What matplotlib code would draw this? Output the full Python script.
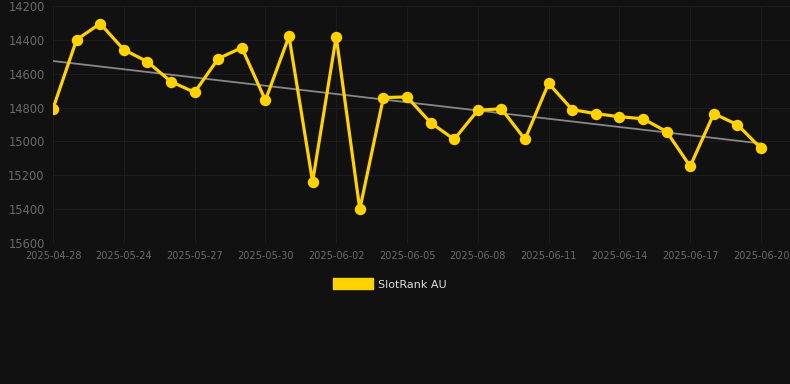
import numpy as np
import matplotlib
matplotlib.use("Agg")
import matplotlib.pyplot as plt
from matplotlib.patches import Patch

dates = ["2025-04-28", "2025-05-22", "2025-05-23", "2025-05-24", "2025-05-25",
         "2025-05-26", "2025-05-27", "2025-05-28", "2025-05-29", "2025-05-30",
         "2025-05-31", "2025-06-01", "2025-06-02", "2025-06-03", "2025-06-04",
         "2025-06-05", "2025-06-06", "2025-06-07", "2025-06-08", "2025-06-09",
         "2025-06-10", "2025-06-11", "2025-06-12", "2025-06-13", "2025-06-14",
         "2025-06-15", "2025-06-16", "2025-06-17", "2025-06-18", "2025-06-19",
         "2025-06-20"]
rank = [14806, 14399, 14304, 14458, 14529, 14647, 14710, 14511, 14446, 14757,
        14379, 15238, 14381, 15401, 14741, 14737, 14889, 14988, 14816, 14807,
        14988, 14657, 14812, 14836, 14854, 14866, 14942, 15147, 14836, 14901,
        15041]
y_ticks = [14200, 14400, 14600, 14800, 15000, 15200, 15400, 15600]

bg = "#111111"
gold = "#FFD200"
W, H = 790, 384

fig = plt.figure(figsize=(W / 100, H / 100), dpi=100, facecolor=bg)
ax = fig.add_axes([53 / W, (H - 243) / H, (790 - 53) / W, 237 / H], facecolor=bg)

x = np.arange(len(rank))
# linear trend
k, b = np.polyfit(x, rank, 1)
ax.plot(x, k * x + b, color="#888888", lw=1.3, zorder=2)

ax.plot(x, rank, color=gold, lw=2.3, marker="o", ms=7.2,
        solid_joinstyle="miter", zorder=3)

ax.set_xlim(0, (790 - 53) / 23.6)
ax.set_ylim(15600, 14200)
ax.set_yticks(y_ticks)
ax.set_yticklabels([str(v) for v in y_ticks])
ax.set_xticks(x[::3])
ax.set_xticklabels(dates[::3])

ax.grid(True, color="#1c1c1c", lw=0.8)
ax.set_axisbelow(True)
for s in ax.spines.values():
    s.set_visible(False)
ax.tick_params(axis="y", length=0, pad=6, labelsize=8.3, labelcolor="#6a6a6a")
ax.tick_params(axis="x", length=0, pad=6, labelsize=7, labelcolor="#6a6a6a")

fig.legend(handles=[Patch(facecolor=gold, edgecolor=gold, label="SlotRank AU")],
           loc="center", bbox_to_anchor=(390 / W, 1 - 284 / H), frameon=False,
           handlelength=3.6, handleheight=1.1, handletextpad=0.5,
           fontsize=8, labelcolor="#dddddd")

fig.savefig("out.png", dpi=100, facecolor=bg)
